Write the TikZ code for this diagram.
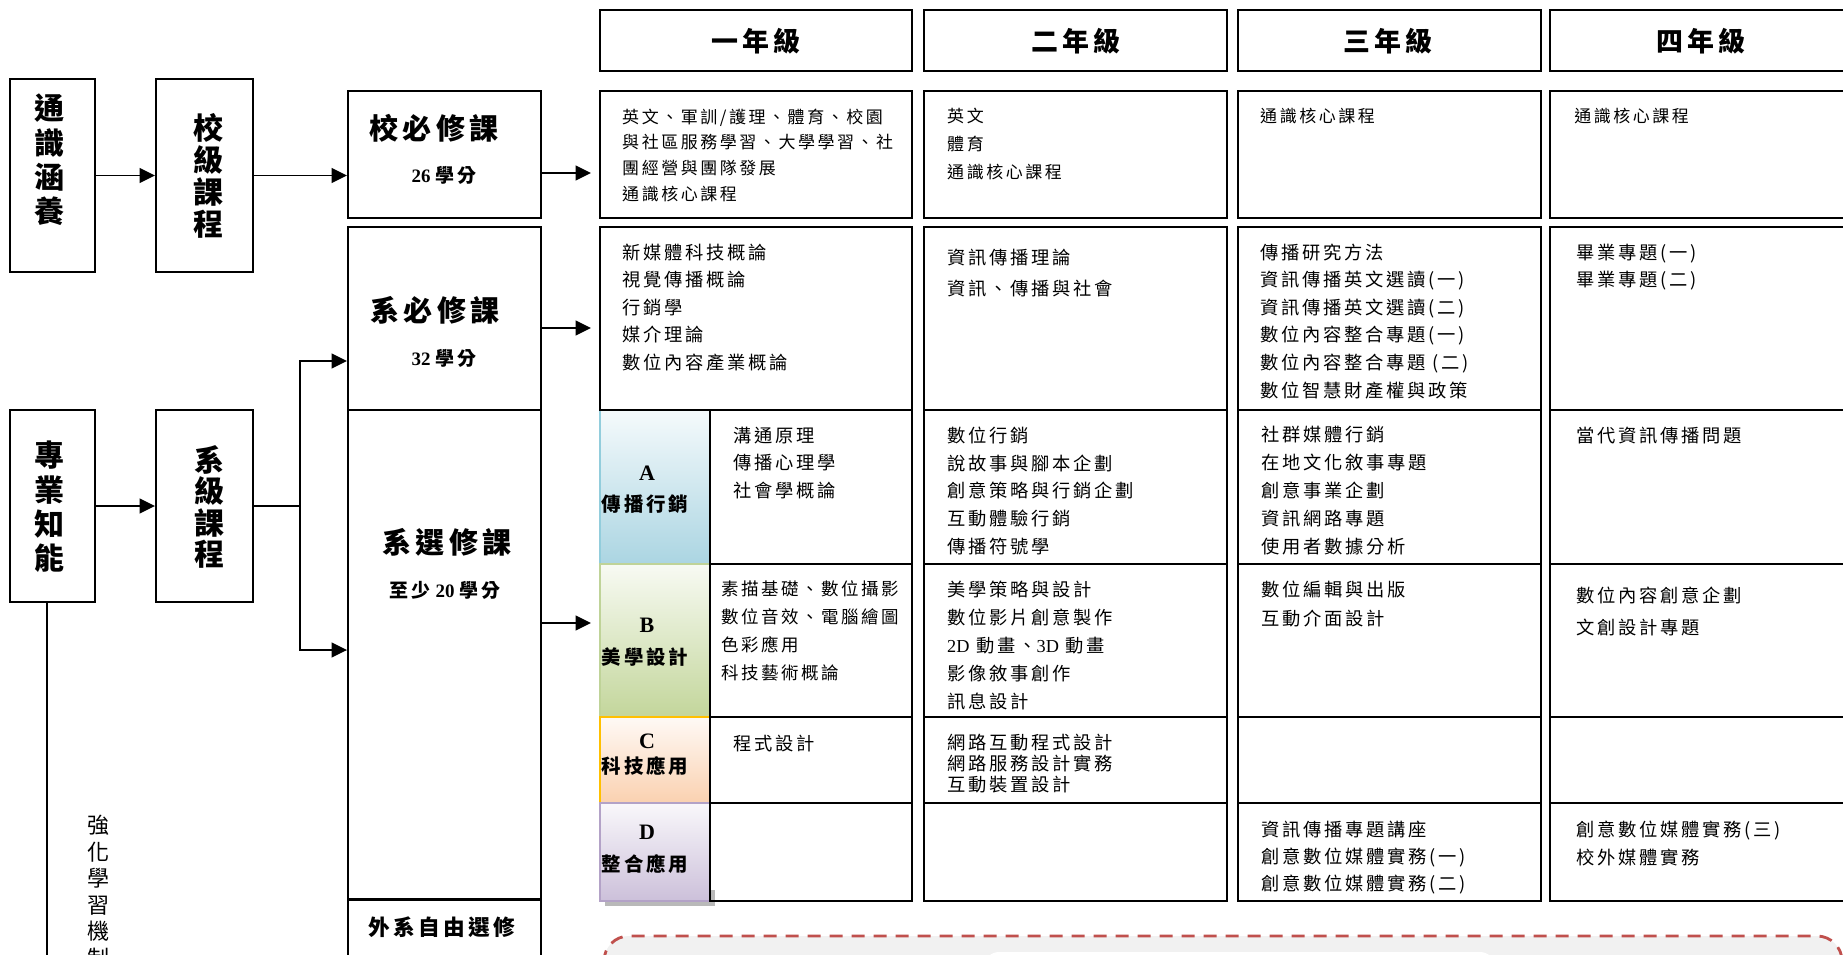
\documentclass[tikz,border=0pt]{standalone}
\usepackage{fontspec}
\setmainfont{Liberation Serif}
\newfontfamily\cjk{Noto Sans CJK TC}[LetterSpace=15]
\newfontfamily\cjkn{Noto Sans CJK TC}
\usetikzlibrary{arrows.meta, positioning}
\definecolor{catA}{HTML}{ABD5E2}
\definecolor{catB}{HTML}{C3D69B}
\definecolor{catC}{HTML}{FAD1B0}
\definecolor{catD}{HTML}{CCC0DA}
\definecolor{lineA}{HTML}{92CDDC}
\definecolor{lineB}{HTML}{BFD398}
\definecolor{lineC}{HTML}{FFC000}
\definecolor{lineD}{HTML}{B3A2C7}
\definecolor{dashred}{HTML}{C0504D}
\definecolor{boxgray}{HTML}{F1F1F1}

\tikzset{
  flowbox/.style={draw, line width=1.6pt, inner sep=0pt},
  cell/.style={draw, line width=1.6pt},
  arr/.style={line width=1.6pt, -{Triangle[length=0.46cm, width=0.44cm]}},
  course/.style={font=\cjk\fontsize{15.6}{#1}\selectfont, align=left, anchor=north west, inner sep=0pt, yshift=0.25cm},
  course/.default=23.5,
  rowone/.style={font=\cjk\fontsize{14.5}{#1}\selectfont, align=left, anchor=north west, inner sep=0pt, yshift=0.23cm},
  rowone/.default=21.9,
  yearhead/.style={font=\cjk\bfseries\fontsize{23}{28}\selectfont, inner sep=0pt},
  vbig/.style={font=\cjkn\bfseries\fontsize{25.6}{#1}\selectfont, align=center, inner sep=0pt},
  vbig/.default=29.4,
  boxtitle/.style={font=\cjk\bfseries\fontsize{24.8}{30}\selectfont, inner sep=0pt},
  credits/.style={font=\bfseries\fontsize{16.2}{20}\selectfont, inner sep=0pt},
  catletter/.style={font=\bfseries\fontsize{18.8}{22}\selectfont, inner sep=0pt},
  catname/.style={font=\cjk\bfseries\fontsize{16.6}{20}\selectfont, inner sep=0pt},
}

\begin{document}
\begin{tikzpicture}[x=0.03cm, y=-0.03cm]
  \useasboundingbox (0,0) rectangle (1843,955);
  \clip (0,0) rectangle (1843,955);
  \fill[white] (0,0) rectangle (1843,955);

  % dashed note area at the bottom
  \draw[draw=dashred, line width=2.4pt, dash pattern=on 0.39cm off 0.27cm,
        fill=boxgray, rounded corners=0.75cm] (604,936) rectangle (1842,1100);
  \fill[white, rounded corners=0.45cm] (984,952) rectangle (1495,1100);

  % elective categories A-D
  \fill[gray!55] (605,890) rectangle (715,906); % shadow
  \foreach \n/\t/\b/\ly/\ny/\name in {A/410/564/473/504/傳播行銷, B/564/717/625/657/美學設計,
      C/717/803/741/766/科技應用, D/803/901/832/864/整合應用} {
    \draw[line width=1.4pt, draw=line\n, top color=cat\n!12, bottom color=cat\n] (600,\t) rectangle (710,\b);
    \node[catletter] (let\n) at (647,\ly) {\n};
    \node[catname] (name\n) at (645,\ny) {\name};
  }

  % year columns
  \foreach \l/\r in {600/912, 924/1227, 1238/1541, 1550/1853} {
    \draw[cell] (\l,10) rectangle (\r,71);   % header
    \draw[cell] (\l,91) rectangle (\r,218);  % school required
    \draw[cell] (\l,227) rectangle (\r,410); % dept required
  }
  \foreach \l/\r in {710/912, 924/1227, 1238/1541, 1550/1853} {
    \foreach \t/\b in {410/564, 564/717, 717/803, 803/901} {
      \draw[cell] (\l,\t) rectangle (\r,\b);
    }
  }

  \node[yearhead] (y1) at (756,41) {一年級};
  \node[yearhead] (y2) at (1076,41) {二年級};
  \node[yearhead] (y3) at (1388,41) {三年級};
  \node[yearhead] (y4) at (1701,41) {四年級};

  % courses
  \node[rowone] (c1r1) at (622,116) {英文、軍訓/護理、體育、校園\\與社區服務學習、大學學習、社\\團經營與團隊發展\\通識核心課程};
  \node[rowone=23.5] (c2r1) at (947,116) {英文\\體育\\通識核心課程};
  \node[rowone] (c3r1) at (1260,116) {通識核心課程};
  \node[rowone] (c4r1) at (1574,116) {通識核心課程};

  \node[course] (c1r2) at (622,252) {新媒體科技概論\\視覺傳播概論\\行銷學\\媒介理論\\數位內容產業概論};
  \node[course=26.5] (c2r2) at (947,257) {資訊傳播理論\\資訊、傳播與社會};
  \node[course] (c3r2) at (1260,252) {傳播研究方法\\資訊傳播英文選讀(一)\\資訊傳播英文選讀(二)\\數位內容整合專題(一)\\數位內容整合專題 (二)\\數位智慧財產權與政策};
  \node[course] (c4r2) at (1576,252) {畢業專題(一)\\畢業專題(二)};

  \node[course] (c1a) at (733,435) {溝通原理\\傳播心理學\\社會學概論};
  \node[course=23.7] (c2a) at (947,435) {數位行銷\\說故事與腳本企劃\\創意策略與行銷企劃\\互動體驗行銷\\傳播符號學};
  \node[course=23.9] (c3a) at (1261,434) {社群媒體行銷\\在地文化敘事專題\\創意事業企劃\\資訊網路專題\\使用者數據分析};
  \node[course] (c4a) at (1576,435) {當代資訊傳播問題};

  \node[course=23.9, font=\cjk\fontsize{14.9}{23.9}\selectfont] (c1b) at (721,589) {素描基礎、數位攝影\\數位音效、電腦繪圖\\色彩應用\\科技藝術概論};
  \node[course=23.9] (c2b) at (947,589) {美學策略與設計\\數位影片創意製作\\{\rmfamily 2D} 動畫、{\rmfamily 3D} 動畫\\影像敘事創作\\訊息設計};
  \node[course=24.8] (c3b) at (1261,589) {數位編輯與出版\\互動介面設計};
  \node[course=27.3] (c4b) at (1576,595) {數位內容創意企劃\\文創設計專題};

  \node[course] (c1c) at (733,743) {程式設計};
  \node[course=17.9] (c2c) at (947,742) {網路互動程式設計\\網路服務設計實務\\互動裝置設計};

  \node[course=23] (c3d) at (1261,829) {資訊傳播專題講座\\創意數位媒體實務(一)\\創意數位媒體實務(二)};
  \node[course=23.9] (c4d) at (1576,829) {創意數位媒體實務(三)\\校外媒體實務};

  % left flow
  \node[flowbox, minimum width=2.55cm, minimum height=5.79cm] (tong) at (52.5,175.5) {};
  \node[flowbox, minimum width=2.91cm, minimum height=5.79cm] (xiaoji) at (204.5,175.5) {};
  \node[flowbox, minimum width=2.55cm, minimum height=5.76cm] (zhuan) at (52.5,506) {};
  \node[flowbox, minimum width=2.91cm, minimum height=5.76cm] (xiji) at (204.5,506) {};
  \node[flowbox, minimum width=5.79cm, minimum height=3.81cm] (xiaobi) at (444.5,154.5) {};
  \node[flowbox, minimum width=5.79cm, minimum height=5.49cm] (xibi) at (444.5,318.5) {};
  \node[flowbox, minimum width=5.79cm, minimum height=14.67cm] (xixuan) at (444.5,654.5) {};
  \node[flowbox, minimum width=5.79cm, minimum height=3cm, anchor=north] (waixi) at (444.5,899) {};

  \node[vbig] (tongt) at (49,160) {通\\識\\涵\\養};
  \node[vbig=27.3] (xiaojit) at (208,176) {校\\級\\課\\程};
  \node[vbig] (zhuant) at (49,507) {專\\業\\知\\能};
  \node[vbig=26.8] (xijit) at (209,507) {系\\級\\課\\程};

  \node[boxtitle] (xiaobit) at (434,128) {校必修課};
  \node[credits] (xiaobic) at (444,175) {26 {\cjk 學分}};
  \node[boxtitle] (xibit) at (435,310) {系必修課};
  \node[credits] (xibic) at (444,358) {32 {\cjk 學分}};
  \node[boxtitle] (xixuant) at (447,542) {系選修課};
  \node[credits] (xixuanc) at (445,590) {{\cjk 至少} 20 {\cjk 學分}};
  \node[font=\cjk\bfseries\fontsize{18.5}{22}\selectfont, inner sep=0pt] (waixit) at (442,927) {外系自由選修};

  \node[font=\cjkn\fontsize{18.8}{22.6}\selectfont, align=center, anchor=north, inner sep=0pt, yshift=0.3cm]
    (qianghua) at (99,825) {強\\化\\學\\習\\機\\制};

  % connectors
  \coordinate (t1) at (591,173);
  \coordinate (t2) at (591,328);
  \coordinate (t3) at (591,623);
  \coordinate (fork) at (300,506);
  \coordinate (up) at (300,361);
  \coordinate (dn) at (300,650);
  \coordinate (zbot) at (47,1000);

  \draw[arr] (tong) -- (xiaoji);
  \draw[arr] (xiaoji.east) -- (xiaoji.east -| xiaobi.west);
  \draw[arr] (zhuan) -- (xiji);
  \draw[line width=1.6pt] (xiji.east) -- (fork);
  \draw[arr] (fork) -- (up) -- (up -| xibi.west);
  \draw[arr] (fork) -- (dn) -- (dn -| xixuan.west);
  \draw[arr] (xiaobi.east |- t1) -- (t1);
  \draw[arr] (xibi.east |- t2) -- (t2);
  \draw[arr] (xixuan.east |- t3) -- (t3);
  \draw[line width=1.6pt] (zhuan.south -| zbot) -- (zbot);
\end{tikzpicture}
\end{document}
